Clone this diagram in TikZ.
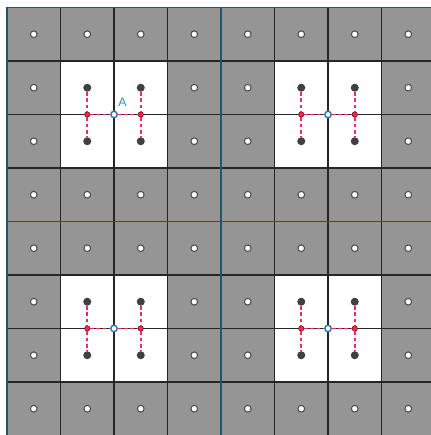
\documentclass[tikz,border=0pt]{standalone}
\usepackage{fontspec}
\newfontfamily\lblfont{Liberation Sans}
\usepackage{tikz}
\usetikzlibrary{positioning}

\definecolor{cellgray}{HTML}{959595}
\definecolor{linkred}{HTML}{EE2A5E}
\definecolor{ctrblue}{HTML}{2A7AB8}
\definecolor{axisblue}{HTML}{1E5570}
\definecolor{lblblue}{HTML}{3D8FC6}

\begin{document}
\begin{tikzpicture}[
  emptydot/.style={circle,draw=black!70,fill=white,line width=0.55pt,inner sep=0pt,minimum size=1.25mm},
  fulldot/.style={circle,fill=black!75,inner sep=0pt,minimum size=1.5mm},
  reddot/.style={circle,fill=linkred,draw=red!55!black,line width=0.3pt,inner sep=0pt,minimum size=1mm},
  ctrdot/.style={circle,draw=ctrblue,fill=white,line width=0.75pt,inner sep=0pt,minimum size=1.2mm},
  link/.style={draw=linkred,line width=0.95pt,dash pattern=on 2pt off 1.3pt},
  gridline/.style={black!85,line width=0.6pt},
  axisline/.style={axisblue,line width=0.7pt},
]
  \useasboundingbox (-0.131,0.009) rectangle (7.925,8.14);

  \fill[cellgray] (0,0) rectangle (8,8);
  \foreach \b/\cx/\cy in {1/2/6,2/6/6,3/2/2,4/6/2}
    \fill[white] (\cx-1,\cy-1) rectangle (\cx+1,\cy+1);

  \foreach \k in {1,2,3,5,6,7} {
    \draw[gridline] (\k,0) -- (\k,8);
    \draw[gridline] (0,\k) -- (8,\k);
  }
  \foreach \k in {0,4,8} {
    \draw[axisline] (\k,0) -- (\k,8);
    \draw[axisline] (0,\k) -- (8,\k);
  }

  \foreach \i in {0,...,7} {
    \foreach \j in {0,...,7} {
      \pgfmathtruncatemacro\inblock{and(or(mod(\i,4)==1,mod(\i,4)==2),or(mod(\j,4)==1,mod(\j,4)==2))}
      \ifnum\inblock=0
        \node[emptydot] (g\i\j) at (\i+0.5,\j+0.5) {};
      \fi
    }
  }

  \foreach \b/\cx/\cy in {1/2/6,2/6/6,3/2/2,4/6/2} {
    \node[fulldot] (tl\b) at (\cx-0.5,\cy+0.5) {};
    \node[fulldot] (bl\b) at (\cx-0.5,\cy-0.5) {};
    \node[fulldot] (tr\b) at (\cx+0.5,\cy+0.5) {};
    \node[fulldot] (br\b) at (\cx+0.5,\cy-0.5) {};
    \node[reddot] (l\b) at (\cx-0.5,\cy) {};
    \node[reddot] (r\b) at (\cx+0.5,\cy) {};
    \node[ctrdot] (c\b) at (\cx,\cy) {};
    \draw[link] (tl\b) -- (l\b);
    \draw[link] (l\b) -- (bl\b);
    \draw[link] (tr\b) -- (r\b);
    \draw[link] (r\b) -- (br\b);
    \draw[link] (l\b) -- (c\b);
    \draw[link] (c\b) -- (r\b);
  }

  \node[text=lblblue,font=\lblfont\fontsize{6.6}{7}\selectfont,inner sep=0pt] (lblA) at (2.16,6.23) {A};
\end{tikzpicture}
\end{document}
